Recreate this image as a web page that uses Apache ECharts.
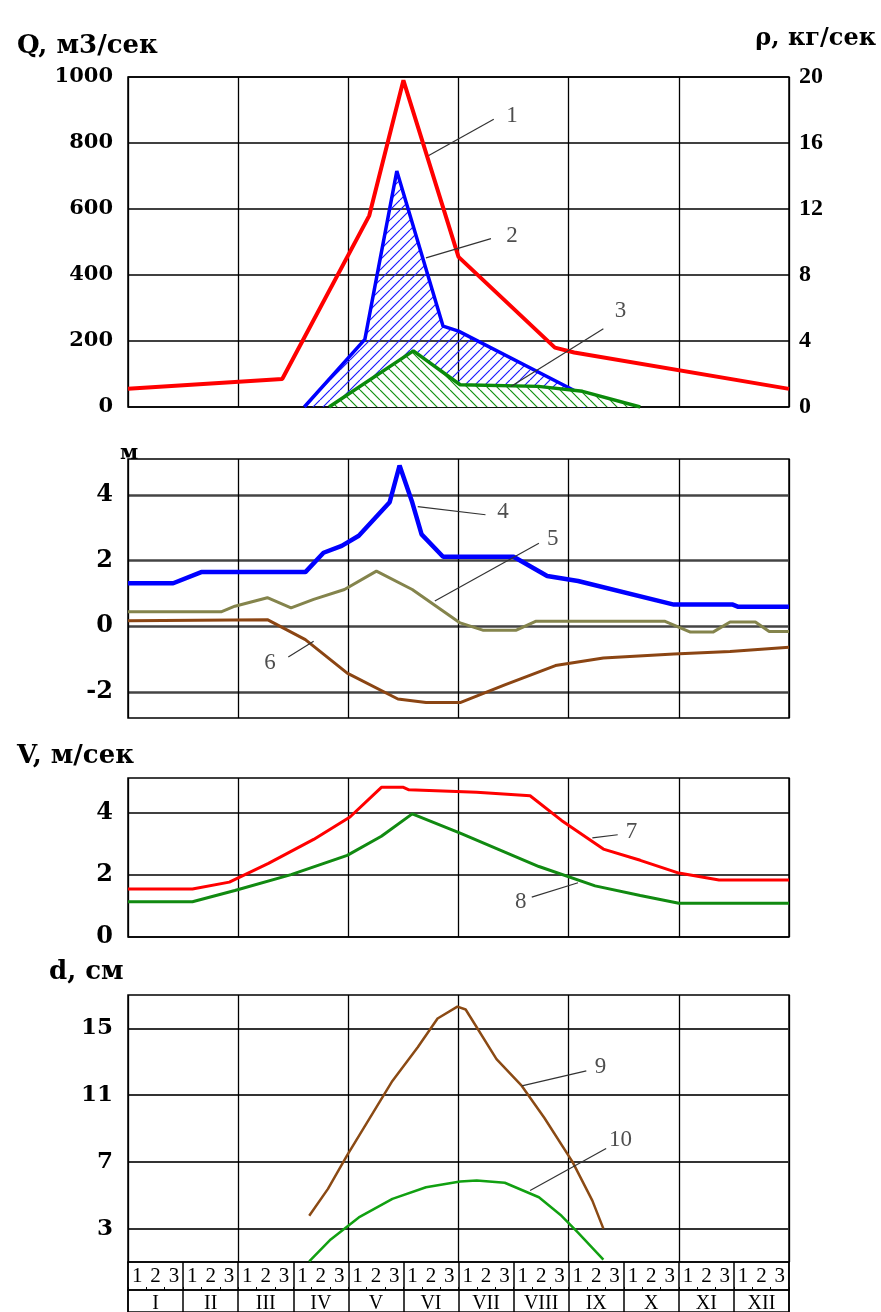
<!DOCTYPE html>
<html>
<head>
<meta charset="utf-8" />
<title>Гидрологический режим</title>
<script src="https://cdn.jsdelivr.net/npm/echarts@6/dist/echarts.min.js"></script>
</head>
<body style="margin:0;background:#fff">
<div id="main" style="width:881px;height:1312px;"></div>
<script>
// ось x: месяцы от начала года (0..12)
var months = ['I', 'II', 'III', 'IV', 'V', 'VI', 'VII', 'VIII', 'IX', 'X', 'XI', 'XII'];
var decadeNames = ['1', '2', '3'];

// 1 - расход воды Q, м3/сек
var q1 = [[0, 55], [2.8, 85], [4.38, 580], [5.0, 990], [6.0, 455], [7.75, 180], [8.1, 165], [12, 55]];
// 2, 3 - расход наносов, кг/сек
var rho2 = [[3.2, 0], [4.3, 4.1], [4.88, 14.3], [5.72, 4.9], [6.0, 4.6], [8.1, 1.0], [8.3, 0]];
var rho3 = [[3.65, 0], [5.18, 3.4], [6.03, 1.35], [7.45, 1.25], [8.25, 0.95], [9.3, 0]];

// 4, 5, 6 - уровни, м
var h4 = [[0, 1.31], [0.82, 1.31], [1.33, 1.65], [3.22, 1.65], [3.55, 2.24], [3.88, 2.45], [4.19, 2.76],
  [4.75, 3.78], [4.93, 4.9], [5.16, 3.78], [5.33, 2.8], [5.72, 2.12], [7.0, 2.12], [7.61, 1.53],
  [8.17, 1.38], [9.91, 0.66], [10.98, 0.66], [11.08, 0.59], [12, 0.59]];
var h5 = [[0, 0.44], [1.69, 0.44], [1.94, 0.61], [2.53, 0.87], [2.96, 0.56], [3.37, 0.82], [3.93, 1.12],
  [4.51, 1.68], [5.16, 1.12], [6.03, 0.1], [6.44, -0.12], [7.05, -0.12], [7.4, 0.15], [9.75, 0.15],
  [10.21, -0.18], [10.62, -0.18], [10.93, 0.13], [11.39, 0.13], [11.64, -0.16], [12, -0.16]];
var h6 = [[0, 0.17], [2.53, 0.2], [3.22, -0.41], [3.98, -1.43], [4.9, -2.22], [5.41, -2.33], [6.03, -2.33],
  [6.84, -1.79], [7.76, -1.2], [8.63, -0.97], [9.91, -0.85], [10.93, -0.77], [12, -0.64]];

// 7, 8 - скорости, м/сек
var v7 = [[0, 1.54], [1.17, 1.54], [1.84, 1.76], [2.55, 2.36], [3.37, 3.13], [4.03, 3.85], [4.6, 4.8],
  [5.0, 4.8], [5.1, 4.72], [6.33, 4.64], [7.3, 4.53], [7.87, 3.74], [8.63, 2.82], [9.3, 2.46],
  [10.0, 2.05], [10.73, 1.83], [12, 1.83]];
var v8 = [[0, 1.13], [1.17, 1.13], [1.94, 1.49], [2.96, 2.0], [3.98, 2.62], [4.6, 3.23], [5.16, 3.95],
  [6.03, 3.33], [7.46, 2.26], [8.48, 1.64], [9.3, 1.33], [10.0, 1.08], [12, 1.08]];

// 9, 10 - крупность, см
var d9 = [[3.29, 3.77], [3.63, 5.38], [3.98, 7.4], [4.8, 11.85], [5.26, 13.87], [5.62, 15.59], [5.98, 16.3],
  [6.13, 16.13], [6.69, 13.16], [7.15, 11.55], [7.56, 9.63], [8.07, 7.0], [8.43, 4.68], [8.63, 3.0]];
var d10 = [[3.29, 1.04], [3.68, 2.35], [4.19, 3.67], [4.8, 4.78], [5.41, 5.48], [6.03, 5.83], [6.33, 5.89],
  [6.84, 5.75], [7.46, 4.88], [7.87, 3.77], [8.17, 2.76], [8.63, 1.14]];

// тики осей
var qTicks = [0, 200, 400, 600, 800, 1000];
var rhoTicks = [0, 4, 8, 12, 16, 20];
var hTicks = [-2, 0, 2, 4];
var vTicks = [0, 2, 4];
var dTicks = [3, 7, 11, 15];

// выноски с номерами кривых
var noteGrid = [0, 0, 0, 1, 1, 1, 2, 2, 3, 3];
var noteText = ['1', '2', '3', '4', '5', '6', '7', '8', '9', '10'];
var notePos = [[6.97, 882], [6.97, 517], [8.94, 292], [6.81, 3.47], [7.71, 2.67], [2.58, -1.12],
  [9.14, 3.38], [7.13, 1.13], [8.58, 12.66], [8.94, 8.3]];
var noteFrom = [[5.46, 762], [5.41, 452], [6.95, 62], [5.26, 3.65], [5.57, 0.77], [2.91, -0.94],
  [8.43, 3.18], [7.33, 1.28], [7.15, 11.55], [7.3, 5.28]];
var noteTo = [[6.64, 872], [6.59, 510], [8.63, 237], [6.49, 3.4], [7.46, 2.53], [3.37, -0.46],
  [8.89, 3.28], [8.17, 1.74], [8.32, 12.45], [8.68, 7.8]];

var decades = [];
months.forEach(function () { decades = decades.concat(decadeNames); });

// штриховка для заливки
function hatch(color, dir, bg) {
  var c = document.createElement('canvas');
  c.width = 10; c.height = 10;
  var ctx = c.getContext('2d');
  if (bg) { ctx.fillStyle = bg; ctx.fillRect(0, 0, 10, 10); }
  ctx.strokeStyle = color;
  ctx.lineWidth = 1.2;
  ctx.beginPath();
  for (var k = -10; k <= 20; k += 10) {
    if (dir > 0) { ctx.moveTo(k, 10); ctx.lineTo(k + 10, 0); }
    else { ctx.moveTo(k, 0); ctx.lineTo(k + 10, 10); }
  }
  ctx.stroke();
  return c;
}

var font = 'Liberation Serif';
var wide = 'DejaVu Serif';
var L = 128, R = 92;
var gridTop = [77, 459, 778, 995, 1262, 1290];
var gridH = [330, 259, 159, 267, 28, 30];

var grids = gridTop.map(function (t, i) {
  return { left: L, right: R, top: t, height: gridH[i], show: true, borderColor: '#000', borderWidth: 1.5,
    backgroundColor: 'transparent' };
});

function monthAxis(gi) {
  return { type: 'value', gridIndex: gi, min: 0, max: 12, interval: 2,
    axisLine: { show: false }, axisTick: { show: false }, axisLabel: { show: false },
    splitLine: { show: true, lineStyle: { color: '#000', width: 1.3 } } };
}

function valAxis(gi, min, max, ticks, size, hColor, hWidth) {
  return { type: 'value', gridIndex: gi, min: min, max: max,
    axisLine: { show: false },
    axisTick: { show: false, customValues: ticks },
    axisLabel: { customValues: ticks, color: '#000', fontFamily: wide, fontWeight: 'bold', fontSize: size, margin: 15,
      formatter: function (v) { return String(v); } },
    splitLine: { show: true, lineStyle: { color: hColor, width: hWidth } } };
}

var xAxes = [monthAxis(0), monthAxis(1), monthAxis(2), monthAxis(3),
  { type: 'category', gridIndex: 4, data: decades, position: 'bottom',
    axisLine: { show: false },
    axisTick: { show: true, inside: true, length: 3, interval: 0, lineStyle: { color: '#000' } },
    axisLabel: { inside: true, interval: 0, margin: 3, color: '#000', fontFamily: font, fontSize: 21 },
    splitLine: { show: false } },
  { type: 'category', gridIndex: 4, data: months, position: 'top',
    axisLine: { show: false }, axisTick: { show: false }, axisLabel: { show: false },
    splitLine: { show: true, interval: 0, lineStyle: { color: '#000', width: 1.5 } } },
  { type: 'category', gridIndex: 5, data: months, position: 'top',
    axisLine: { show: false }, axisTick: { show: false },
    axisLabel: { inside: true, interval: 0, margin: 4, color: '#000', fontFamily: font, fontSize: 20 },
    splitLine: { show: true, interval: 0, lineStyle: { color: '#000', width: 1.5 } } }
];

var rightAxis = valAxis(0, 0, 20, rhoTicks, 24, '#000', 1.5);
rightAxis.position = 'right';
rightAxis.splitLine = { show: false };
rightAxis.axisLabel.margin = 10;
rightAxis.axisLabel.fontFamily = font;

var yAxes = [
  valAxis(0, 0, 1000, qTicks, 21, '#000', 1.5),
  rightAxis,
  valAxis(1, -2.8, 5.1, hTicks, 24, '#444', 2.5),
  valAxis(2, 0, 5.1, vTicks, 24, '#000', 1.5),
  valAxis(3, 1, 17, dTicks, 23, '#333', 2.2),
  { type: 'value', gridIndex: 4, show: false, min: 0, max: 1, splitLine: { show: false } },
  { type: 'value', gridIndex: 5, show: false, min: 0, max: 1, splitLine: { show: false } }
];

function curve(name, data, xi, yi, color, width, extra) {
  var s = { name: name, type: 'line', xAxisIndex: xi, yAxisIndex: yi, data: data,
    symbol: 'none', animation: false, lineStyle: { color: color, width: width } };
  for (var k in extra) s[k] = extra[k];
  return s;
}

var series = [
  curve('2', rho2, 0, 1, '#0000ff', 3.5, { z: 3, areaStyle: { color: { image: hatch('#1a1aff', 1), repeat: 'repeat' }, opacity: 1 } }),
  curve('3', rho3, 0, 1, '#0b8a0b', 3.5, { z: 4, areaStyle: { color: { image: hatch('#119011', -1, '#ffffff'), repeat: 'repeat' }, opacity: 1 } }),
  curve('1', q1, 0, 0, '#ff0000', 4, { z: 5 }),
  curve('4', h4, 1, 2, '#0000ff', 4.5, { z: 5 }),
  curve('5', h5, 1, 2, '#84844c', 3, { z: 4 }),
  curve('6', h6, 1, 2, '#8b4513', 3, { z: 4 }),
  curve('7', v7, 2, 3, '#ff0000', 3, { z: 5 }),
  curve('8', v8, 2, 3, '#118a11', 3, { z: 4 }),
  curve('9', d9, 3, 4, '#8b4a14', 2.5, { z: 5 }),
  curve('10', d10, 3, 4, '#11a011', 2.5, { z: 4 })
];

var yIdx = [0, 2, 3, 4];
noteText.forEach(function (t, i) {
  var g = noteGrid[i];
  series.push({ type: 'line', xAxisIndex: g, yAxisIndex: yIdx[g], data: [noteFrom[i], noteTo[i]],
    symbol: 'none', animation: false, silent: true, z: 6, lineStyle: { color: '#333', width: 1.2 } });
  series.push({ type: 'scatter', xAxisIndex: g, yAxisIndex: yIdx[g], data: [notePos[i]],
    symbolSize: 1, itemStyle: { color: 'transparent' }, animation: false, silent: true, z: 7,
    label: { show: true, position: 'inside', formatter: t, color: '#222', fontFamily: font, fontSize: 23 } });
});

var titleStyle = { color: '#000', fontFamily: wide, fontWeight: 'bold', fontSize: 26 };
var option = {
  backgroundColor: '#fff',
  animation: false,
  title: [
    { text: 'Q, м3/сек', left: 12, top: 28, textStyle: titleStyle },
    { text: 'ρ, кг/сек', right: 0, top: 22, textStyle: { color: '#000', fontFamily: wide, fontWeight: 'bold', fontSize: 24 } },
    { text: 'м', left: 115, top: 438, textStyle: { color: '#000', fontFamily: wide, fontWeight: 'bold', fontSize: 21 } },
    { text: 'V, м/сек', left: 12, top: 738, textStyle: titleStyle },
    { text: 'd, см', left: 44, top: 954, textStyle: titleStyle }
  ],
  grid: grids,
  xAxis: xAxes,
  yAxis: yAxes,
  series: series
};

var myChart = echarts.init(document.getElementById('main'));
myChart.setOption(option);
</script>
</body>
</html>
